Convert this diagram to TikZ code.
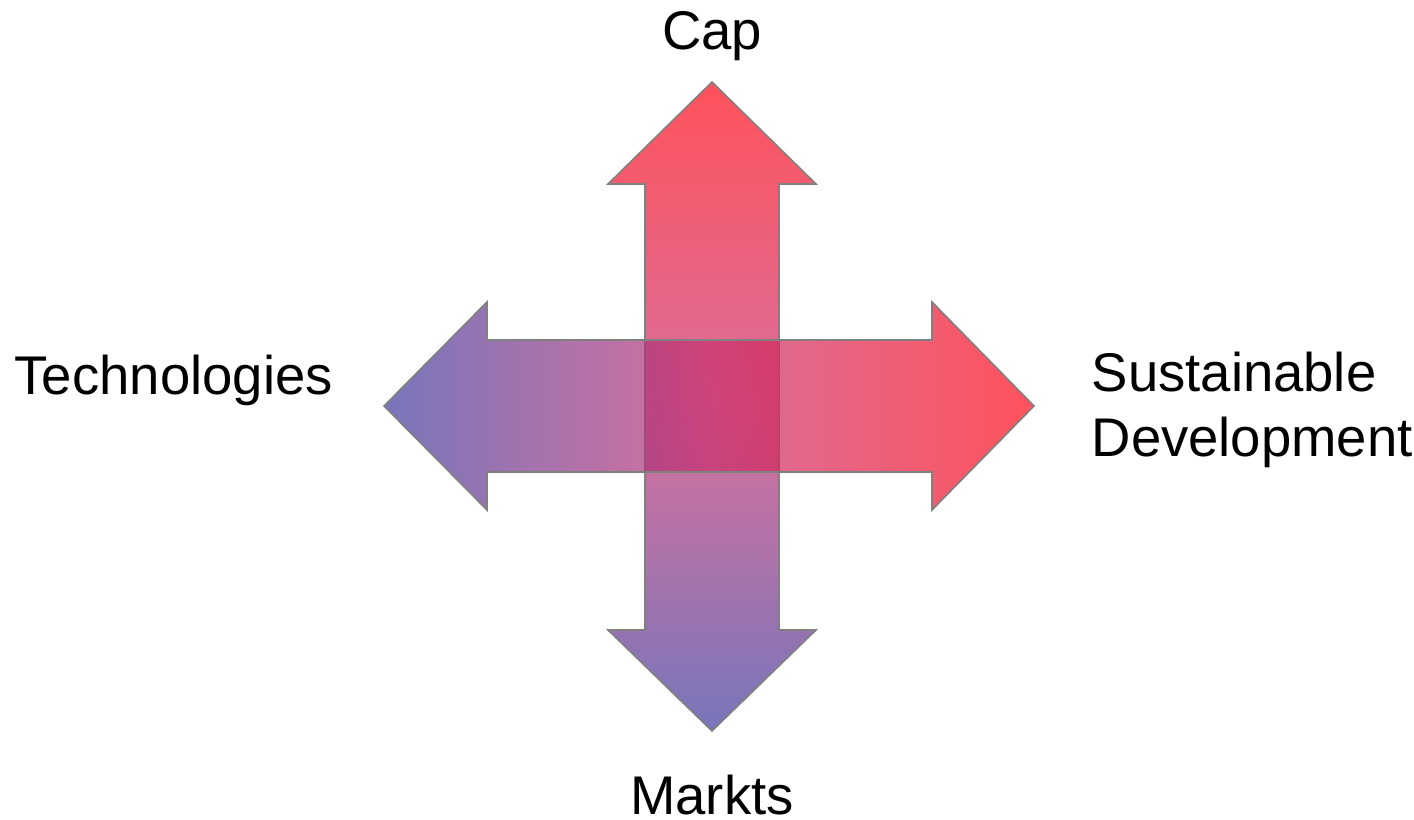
\documentclass[tikz,border=0pt]{standalone}
\usepackage{fontspec}
\setmainfont{Liberation Sans}
\definecolor{capred}{RGB}{255,8,22}
\definecolor{midrose}{RGB}{200,50,112}
\definecolor{techblue}{RGB}{62,59,159}
\definecolor{edgegray}{RGB}{128,128,128}

\begin{document}
\begin{tikzpicture}[
  arrowbody/.style={draw=edgegray,line width=0.45pt,fill opacity=0.7,line join=miter},
  axistext/.style={font=\fontsize{15.5}{18.6}\selectfont,inner sep=0pt}]
  \useasboundingbox (0,0) rectangle (14.14,8.20);
  % vertical double arrow (below)
  \shadedraw[arrowbody,top color=capred,bottom color=techblue,middle color=midrose]
    (7.12,7.38) -- (8.16,6.36) -- (7.79,6.36) -- (7.79,1.90) -- (8.16,1.90) -- (7.12,0.89)
    -- (6.08,1.90) -- (6.45,1.90) -- (6.45,6.36) -- (6.08,6.36) -- cycle;
  % horizontal double arrow (on top)
  \shadedraw[arrowbody,left color=techblue,right color=capred,middle color=midrose]
    (3.84,4.14) -- (4.87,5.18) -- (4.87,4.80) -- (9.32,4.80) -- (9.32,5.18) -- (10.34,4.14)
    -- (9.32,3.10) -- (9.32,3.48) -- (4.87,3.48) -- (4.87,3.10) -- cycle;
  \node[axistext,anchor=base] (cap) at (7.12,7.70) {Cap};
  \node[axistext,anchor=base] (markts) at (7.12,0.05) {Markts};
  \node[axistext,anchor=base west] (tech) at (0.14,4.25) {Technologies};
  \node[axistext,anchor=west,align=left] (sust) at (10.91,4.10) {Sustainable\\Development};
\end{tikzpicture}
\end{document}
